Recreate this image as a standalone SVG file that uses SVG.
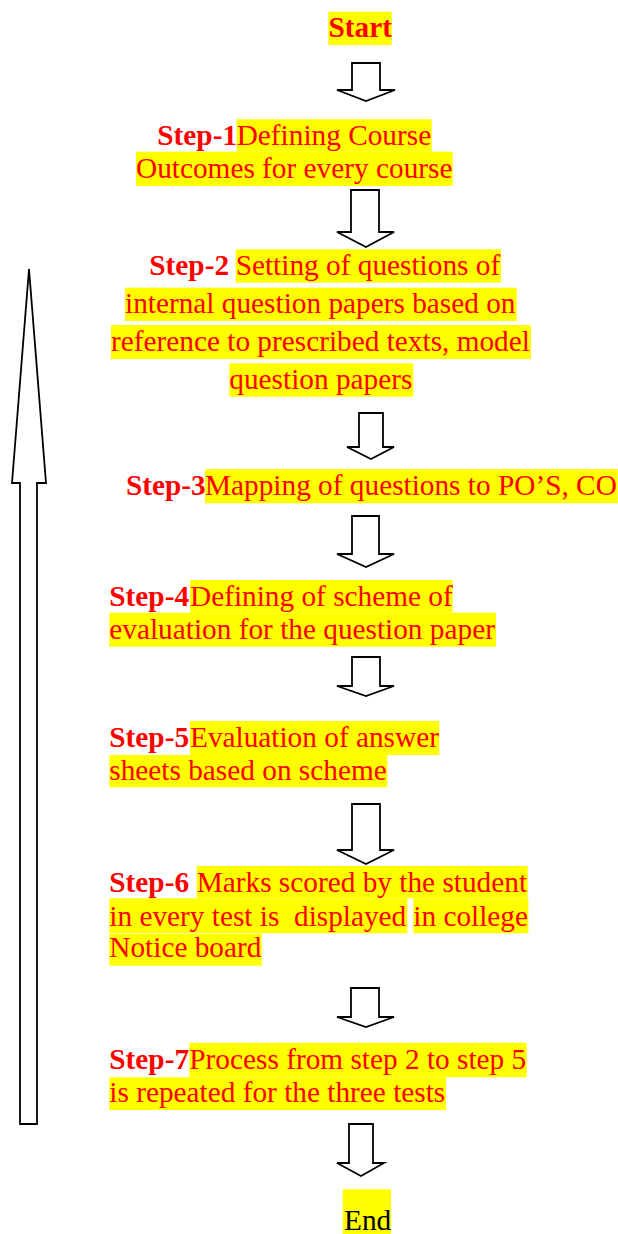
<svg xmlns="http://www.w3.org/2000/svg" width="618" height="1234" viewBox="0 0 618 1234">
  <style>
    text { font-family: "Liberation Serif", "Times New Roman", serif; font-size: 29.3px; fill: #ff0000; white-space: pre; }
    .b { font-weight: bold; }
    .hl { fill: #ffff00; }
    .arrow { fill: #ffffff; stroke: #000000; stroke-width: 1.8; stroke-linejoin: miter; }
    .black { fill: #000000; }
  </style>
  <rect width="618" height="1234" fill="#ffffff"/>

  <!-- Flow steps -->
  <g id="start">
    <rect class="hl" x="328.3" y="11.7" width="63.4" height="33.3"/>
    <text class="b" x="328.5" y="37">Start</text>
  </g>

  <g id="step1">
    <rect class="hl" x="236.7" y="119.3" width="195" height="32.4"/>
    <rect class="hl" x="136" y="151.7" width="316.7" height="34.3"/>
    <text y="145"><tspan class="b" x="157.3">Step-1</tspan><tspan x="236.7">Defining Course</tspan></text>
    <text x="136" y="178">Outcomes for every course</text>
  </g>

  <g id="step2">
    <rect class="hl" x="235.7" y="249.3" width="265.3" height="33.4"/>
    <rect class="hl" x="125" y="287.7" width="391.7" height="33.3"/>
    <rect class="hl" x="111" y="325" width="420" height="34"/>
    <rect class="hl" x="229.3" y="363.3" width="184" height="33.4"/>
    <text y="275.3"><tspan class="b" x="149.3">Step-2</tspan><tspan x="235.7">Setting of questions of</tspan></text>
    <text x="125" y="313.3">internal question papers based on</text>
    <text x="111" y="351">reference to prescribed texts, model</text>
    <text x="229.3" y="388.8">question papers</text>
  </g>

  <g id="step3">
    <rect class="hl" x="205" y="469" width="412.7" height="34.3"/>
    <text y="495.3"><tspan class="b" x="126">Step-3</tspan><tspan x="205">Mapping of questions to PO’S, CO</tspan></text>
  </g>

  <g id="step4">
    <rect class="hl" x="190" y="580" width="262.7" height="32.7"/>
    <rect class="hl" x="109.3" y="612.7" width="386.7" height="34"/>
    <text y="606.3"><tspan class="b" x="109.3">Step-4</tspan><tspan x="190">Defining of scheme of</tspan></text>
    <text x="109.3" y="639">evaluation for the question paper</text>
  </g>

  <g id="step5">
    <rect class="hl" x="190" y="721" width="249.3" height="34"/>
    <rect class="hl" x="109.3" y="755" width="278" height="32.3"/>
    <text y="747.2"><tspan class="b" x="109.3">Step-5</tspan><tspan x="190">Evaluation of answer</tspan></text>
    <text x="109.3" y="780">sheets based on scheme</text>
  </g>

  <g id="step6">
    <rect class="hl" x="196.7" y="866" width="331" height="32.3"/>
    <rect class="hl" x="109.3" y="898.3" width="298" height="35"/>
    <rect class="hl" x="413.3" y="898.3" width="115" height="35"/>
    <rect class="hl" x="109.3" y="934" width="152.4" height="31.7"/>
    <text y="891.5"><tspan class="b" x="109.3">Step-6</tspan><tspan x="196.7">Marks scored by the student</tspan></text>
    <text y="925.6"><tspan x="109.3">in every test is  displayed</tspan><tspan x="413.3">in college</tspan></text>
    <text x="109.3" y="957.3">Notice board</text>
  </g>

  <g id="step7">
    <rect class="hl" x="189.3" y="1042.7" width="337.4" height="34.6"/>
    <rect class="hl" x="109.3" y="1077.3" width="336.7" height="32.7"/>
    <text y="1068.5"><tspan class="b" x="109.3">Step-7</tspan><tspan x="189.3">Process from step 2 to step 5</tspan></text>
    <text x="109.3" y="1101.6">is repeated for the three tests</text>
  </g>

  <g id="end">
    <rect class="hl" x="342.7" y="1189.3" width="48.3" height="44.7"/>
    <text class="black" x="344" y="1229.5">End</text>
  </g>

  <!-- Block arrows between steps, plus the tall loop-back arrow on the left -->
  <g id="connectors">
    <polygon class="arrow" points="352,63 380,63 380,90 395,90 366,101 337,90 352,90"/>
    <polygon class="arrow" points="351,190 379,190 379,232 394,232 366,247 337,232 351,232"/>
    <polygon class="arrow" points="359,413 383,413 383,447 394,447 371,459 347,447 359,447"/>
    <polygon class="arrow" points="352,516 379,516 379,554 394,554 366,567 337,554 352,554"/>
    <polygon class="arrow" points="352,657 380,657 380,686 394,686 366,696 337,686 352,686"/>
    <polygon class="arrow" points="352,804 380,804 380,850 394,850 366,864 337,850 352,850"/>
    <polygon class="arrow" points="351,988 379,988 379,1017 394,1017 366,1027 337,1017 351,1017"/>
    <polygon class="arrow" points="349,1124 373,1124 373,1163 384,1163 361,1176 337,1163 349,1163"/>
    <polygon class="arrow" points="29,269 46,483 37,483 37,1124 20,1124 20,483 12,483"/>
  </g>
</svg>
